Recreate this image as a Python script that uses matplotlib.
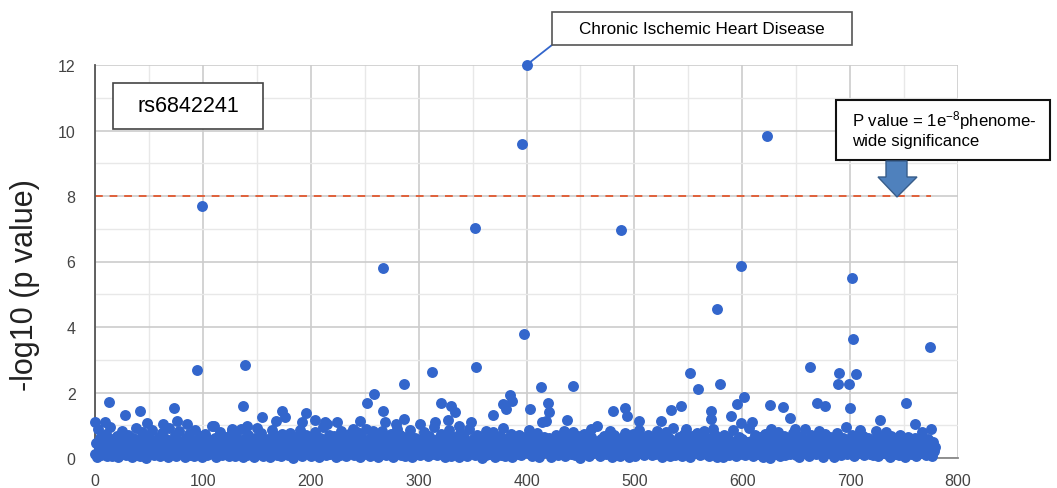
# phewas_rs6842241.py
# PheWAS plot of -log10(p) for rs6842241 across phenotypes.

import matplotlib
matplotlib.use("Agg")
import matplotlib.pyplot as plt
from matplotlib.patches import Rectangle, Polygon
from matplotlib.ticker import MultipleLocator

plt.rcParams['font.family'] = ['Liberation Sans', 'DejaVu Sans']
plt.rcParams['mathtext.fontset'] = 'custom'
plt.rcParams['mathtext.rm'] = 'Liberation Sans'
plt.rcParams['mathtext.default'] = 'regular'

# background phenotypes, x = phenotype index (0..779)
low_y = [
    .12, .45, .03, .88, .27, .61, .09, .34, .52, .18, .73, .05, .41, .22, .96, .31, .07, .58, .15, .39,
    .66, .02, .25, .48, .11, .83, .36, .19, .55, .08, .29, .71, .14, .47, .04, .62, .33, .21, .91, .10,
    .38, .57, .06, .26, .79, .16, .44, .01, .35, .68, .23, .50, .13, .87, .30, .09, .54, .42, .17, .64,
    .05, .32, .76, .20, .46, .11, .59, .28, .03, .93, .37, .15, .51, .24, .69, .07, .43, .19, .81, .34,
    .14, .53, .27, .02, .62, .40, .18, .74, .09, .31, .56, .22, .06, .85, .35, .12, .48, .67, .25, .04,
    .41, .16, .72, .33, .08, .58, .21, .45, .99, .13, .36, .60, .03, .28, .52, .17, .78, .39, .10, .47,
    .23, .65, .11, .37, .05, .54, .30, .82, .19, .42, .07, .63, .26, .14, .49, .89, .32, .02, .57, .20,
    .44, .09, .70, .27, .15, .51, .36, .04, .61, .24, .92, .13, .40, .18, .75, .29, .06, .55, .33, .12,
    .58, .21, .03, .46, .84, .17, .38, .26, .67, .10, .49, .31, .05, .73, .22, .43, .14, .60, .35, .08,
    .28, .77, .16, .52, .01, .39, .64, .20, .45, .11, .86, .34, .07, .56, .25, .18, .69, .41, .13, .50,
    .06, .37, .59, .23, .80, .15, .47, .30, .04, .62, .27, .94, .19, .43, .09, .53, .35, .71, .12, .24,
    .48, .14, .66, .02, .38, .57, .21, .10, .83, .32, .46, .17, .60, .05, .29, .74, .40, .16, .54, .26,
    .09, .51, .31, .78, .18, .42, .03, .63, .25, .12, .47, .90, .36, .20, .58, .07, .33, .68, .22, .44,
    .61, .19, .04, .35, .55, .27, .82, .13, .40, .67, .08, .30, .49, .15, .72, .37, .02, .53, .24, 1.05,
    .17, .45, .28, .70, .10, .56, .34, .06, .64, .21, .41, .14, .87, .32, .03, .50, .26, .60, .39, .11,
    .36, .08, .59, .22, .47, .79, .16, .43, .29, .05, .68, .38, .12, .54, .95, .20, .44, .09, .31, .62,
    .25, .73, .13, .39, .02, .57, .30, .18, .84, .41, .07, .52, .27, .65, .15, .34, .48, .04, .76, .23,
    .42, .11, .63, .28, .50, .06, .37, .88, .19, .45, .24, .60, .09, .33, .71, .14, .53, .40, .17, .01,
    .55, .30, .08, .44, .67, .21, .12, .51, .36, .80, .26, .04, .58, .19, .43, .66, .10, .35, .92, .28,
    .07, .49, .24, .61, .15, .38, .74, .03, .46, .22, .56, .31, .13, .69, .27, .09, .52, .41, .18, .63,
    .33, .16, .85, .20, .42, .06, .59, .35, .11, .48, .77, .25, .02, .54, .37, .14, .65, .29, 1.12, .44,
    .19, .60, .31, .04, .53, .27, .13, .70, .40, .08, .45, .22, .62, .36, .17, .81, .05, .39, .57, .26,
    .50, .12, .43, .78, .23, .09, .56, .32, .66, .18, .01, .47, .29, .73, .14, .41, .60, .21, .06, .37,
    .64, .28, .15, .52, .34, .97, .20, .45, .07, .58, .30, .16, .68, .39, .11, .55, .24, .83, .42, .03,
    .27, .71, .10, .39, .57, .18, .46, .05, .61, .33, .21, .76, .12, .49, .36, .02, .64, .25, .44, .15,
    .40, .06, .53, .30, .87, .14, .35, .62, .22, .09, .50, .41, .19, .70, .28, .47, .08, .59, .32, .13,
    .56, .24, .37, .11, .66, .43, .03, .54, .29, .79, .17, .38, .60, .07, .45, .23, .91, .34, .10, .51,
    .14, .63, .26, .48, .05, .35, .72, .19, .42, .13, .57, .31, .04, .67, .20, .52, .38, .16, .75, .27,
    .45, .09, .58, .22, .39, .81, .12, .47, .33, .06, .62, .25, .54, .15, .40, .69, .28, .02, .49, .36,
    .21, .52, .04, .70, .31, .16, .44, .60, .10, .37, .23, .86, .18, .46, .07, .55, .34, .65, .13, .41,
    .59, .17, .35, .08, .48, .27, .93, .14, .53, .30, .05, .42, .71, .20, .38, .11, .63, .26, .50, .03,
    .32, .74, .15, .43, .22, .57, .01, .36, .64, .19, .49, .12, .28, .80, .41, .06, .54, .33, .17, .68,
    .08, .40, .61, .25, .13, .50, .34, .77, .20, .45, .10, .58, .37, .03, .66, .24, .47, .15, .88, .30,
    .53, .22, .07, .38, .69, .16, .44, .28, .11, .60, .35, .83, .19, .51, .26, .04, .42, .72, .14, .57,
    .29, .64, .36, .12, .47, .02, .55, .21, .75, .33, .18, .46, .09, .62, .40, .27, .96, .13, .35, .50,
    .16, .43, .70, .27, .05, .59, .31, .14, .48, .85, .23, .39, .67, .08, .52, .20, .36, .61, .11, .45,
    .38, .10, .54, .19, .82, .34, .06, .63, .25, .42, .15, .57, .30, .78, .12, .49, .22, .04, .66, .28,
    .47, .26, .13, .60, .37, .09, .71, .18, .44, .32, .56, .02, .40, .23, .65, .35, .11, .53, .29, .17,
    .62, .05, .41, .24, .55, .14, .36, .80, .20, .46, .09, .33, .58, .16, .43, .27, .07, .50, .21, .34,
]

# moderately associated phenotypes
mid_x = [0, 9, 13, 28, 42, 48, 63, 73, 76, 85, 95, 110, 127, 137, 139, 141, 155, 168, 173, 176,
         192, 196, 204, 213, 215, 224, 239, 246, 252, 258, 259, 267, 269, 280, 286, 286, 301, 312, 315, 321,
         327, 330, 334, 337, 349, 353, 362, 369, 378, 381, 385, 387, 403, 413, 414, 420, 421, 438, 443, 460,
         480, 491, 493, 499, 504, 521, 525, 534, 543, 548, 552, 559, 571, 571, 573, 579, 590, 595, 599, 602,
         609, 626, 627, 638, 644, 649, 663, 669, 677, 689, 690, 699, 700, 705, 728, 752, 760, 775]
mid_y = [1.10, 1.10, 1.70, 1.31, 1.43, 1.07, 1.04, 1.52, 1.14, 1.04, 2.69, 0.99, 0.89, 1.60, 2.84, 0.99, 1.26, 1.14, 1.43, 1.26,
         1.09, 1.37, 1.17, 1.09, 1.04, 1.09, 0.90, 1.14, 1.68, 0.83, 1.95, 1.42, 1.09, 0.89, 1.19, 2.26, 1.04, 2.63, 1.09, 1.68,
         1.17, 1.58, 1.40, 0.99, 1.09, 2.78, 0.83, 1.31, 1.65, 1.50, 1.92, 1.75, 1.50, 2.18, 1.09, 1.68, 1.41, 1.17, 2.21, 0.89,
         1.43, 1.53, 1.29, 0.73, 1.14, 0.83, 1.14, 1.48, 1.60, 0.89, 2.59, 2.10, 1.44, 1.19, 0.89, 2.27, 1.27, 1.65, 1.07, 1.87,
         1.09, 1.61, 0.89, 1.57, 1.21, 0.89, 2.79, 1.68, 1.60, 2.26, 2.61, 2.26, 1.52, 2.55, 1.15, 1.68, 1.05, 0.90]

# strongest associations
top_x = [99, 267, 352, 396, 398, 400, 488, 577, 599, 623, 702, 703, 774]
top_y = [7.69, 5.80, 7.01, 9.59, 3.79, 12.0, 6.96, 4.56, 5.87, 9.84, 5.49, 3.63, 3.40]

threshold = 8          # -log10(1e-8)
threshold_end = 775
annotated_x, annotated_y = 400, 12.0

W, H = 1057, 489
blue = '#3366cc'

fig = plt.figure(figsize=(W / 100, H / 100), dpi=100)
ax = fig.add_axes([95 / W, 1 - 459 / H, 863 / W, 393 / H])

ax.scatter(range(len(low_y)), low_y, s=62, color=blue, linewidths=0, zorder=3, clip_on=False)
ax.scatter(mid_x, mid_y, s=62, color=blue, linewidths=0, zorder=3, clip_on=False)
ax.scatter(top_x, top_y, s=62, color=blue, linewidths=0, zorder=3, clip_on=False)

ax.plot([0, threshold_end], [threshold, threshold], color='#e0603a', lw=1.4,
        dashes=(4, 3.5), zorder=2)

ax.set_xlim(0, 800)
ax.set_ylim(0, 12)
ax.xaxis.set_major_locator(MultipleLocator(100))
ax.xaxis.set_minor_locator(MultipleLocator(50))
ax.yaxis.set_major_locator(MultipleLocator(2))
ax.yaxis.set_minor_locator(MultipleLocator(1))
ax.grid(which='major', color='#cccccc', lw=1.2, zorder=0)
ax.grid(which='minor', color='#e8e8e8', lw=1.0, zorder=0)
ax.set_axisbelow(True)
ax.tick_params(which='both', length=0)
ax.tick_params(axis='y', pad=14, labelsize=11.5, labelcolor='#444444')
ax.tick_params(axis='x', pad=11, labelsize=11.5, labelcolor='#444444')
for s in ['top', 'right']:
    ax.spines[s].set_visible(False)
ax.spines['left'].set_color('#555555')
ax.spines['left'].set_linewidth(1.3)
ax.spines['bottom'].set_color('#888888')
ax.spines['bottom'].set_linewidth(1.3)

ax.set_ylabel('-log10 (p value)', fontsize=22, color='#222222')
ax.yaxis.set_label_coords(-0.064, 0.443)


def fig_rect(x0, y0, x1, y1, **kw):
    # rectangle given in image pixels (top-left origin)
    r = Rectangle((x0 / W, 1 - y1 / H), (x1 - x0) / W, (y1 - y0) / H,
                  transform=fig.transFigure, **kw)
    fig.add_artist(r)


# rs id box
fig_rect(113, 84, 263, 130, facecolor='white', edgecolor='#444444', lw=1.2, zorder=5)
fig.text(188 / W, 1 - 107 / H, 'rs6842241', ha='center', va='center', fontsize=15.5, zorder=6)

# top hit callout
fig_rect(552, 13, 852, 46, facecolor='white', edgecolor='#555555', lw=1.2, zorder=5)
fig.text(702 / W, 1 - 30 / H, 'Chronic Ischemic Heart Disease', ha='center', va='center',
         fontsize=12.3, zorder=6)
ax.annotate('', xy=(annotated_x, annotated_y), xytext=(552 / W, 1 - 46 / H),
            textcoords='figure fraction',
            arrowprops=dict(arrowstyle='-', color=blue, lw=1.3, shrinkA=0, shrinkB=0))

# significance note + arrow
fig_rect(836, 101, 1050, 161, facecolor='white', edgecolor='#111111', lw=1.5, zorder=5)
fig.text(852 / W, 1 - 109 / H, 'P value = 1e$^{-8}$phenome-\nwide significance', ha='left',
         va='top', fontsize=12.1, linespacing=1.15, zorder=6)
arrow_px = [(886, 162), (907, 162), (907, 178), (917, 178), (897, 198), (878, 178), (886, 178)]
fig.add_artist(Polygon([(x / W, 1 - y / H) for x, y in arrow_px], closed=True,
                       transform=fig.transFigure, facecolor='#4f81bd', edgecolor='#385d8a',
                       lw=1.0, zorder=5))

fig.savefig('out.png', dpi=100)
